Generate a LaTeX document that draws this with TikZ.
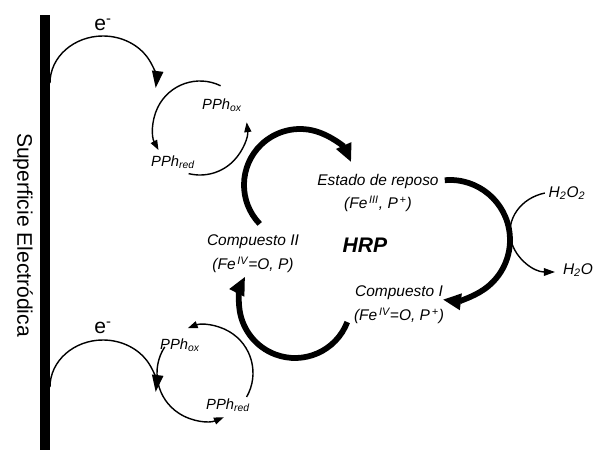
\documentclass[tikz,border=0pt]{standalone}
\usepackage{fontspec}
\setmainfont{Liberation Sans}
\usepackage{tikz}
\usetikzlibrary{arrows.meta, positioning}
\tikzset{
  lbl/.style  ={align=center, inner sep=1pt, font=\fontsize{11}{17}\selectfont\itshape},
  ppl/.style  ={inner sep=1pt, font=\fontsize{10.5}{12}\selectfont\itshape},
  elec/.style ={inner sep=1pt, font=\fontsize{15}{17}\selectfont},
  earr/.style ={-{Triangle[length=12pt, width=8pt]}, line width=1pt},
  parr/.style ={-{Triangle[length=7pt, width=5pt]}, line width=1pt},
  harr/.style ={-{Triangle[length=13pt, width=11pt]}, line width=4.1pt},
  warr/.style ={-{Triangle[length=8pt, width=5.5pt]}, line width=1pt}
}

\begin{document}
\begin{tikzpicture}[x=0.025cm, y=0.025cm]
  \useasboundingbox (0,0) rectangle (594,450);
  % electrode
  \coordinate (bartop) at (45,435);
  \coordinate (barbot) at (45,0);
  \draw[line width=7pt] (bartop) -- (barbot);
  \node[elec, rotate=-90] (surf) at (23,215) {Superficie Electródica};

  % enzyme states
  \node[lbl] (estado) at (378,257) {Estado de reposo\\(Fe\textsuperscript{\,III}, P\textsuperscript{\,+})};
  \node[lbl] (compI) at (399,145) {Compuesto I\\(Fe\textsuperscript{\,IV}=O, P\textsuperscript{\,+})};
  \node[lbl] (compII) at (253,196) {Compuesto II\\(Fe\textsuperscript{\,IV}=O, P)};
  \node[inner sep=1pt, font=\fontsize{15}{17}\selectfont\bfseries\itshape] (hrp) at (365,205) {HRP};
  \node[lbl] (h2o2) at (567,257) {H\textsubscript{2}O\textsubscript{2}};
  \node[lbl] (h2o) at (578,180) {H\textsubscript{2}O};

  % mediator
  \node[ppl] (pphoxA) at (222,345) {PPh\textsubscript{ox}};
  \node[ppl] (pphredA) at (173,288) {PPh\textsubscript{red}};
  \node[ppl] (pphoxB) at (180,105) {PPh\textsubscript{ox}};
  \node[ppl] (pphredB) at (228,45) {PPh\textsubscript{red}};
  \node[elec] (eA) at (103,425) {e\textsuperscript{-}};
  \node[elec] (eB) at (103,122) {e\textsuperscript{-}};

  % arc centres
  \coordinate (cycA) at (200,322);
  \coordinate (cycB) at (205,77);
  \coordinate (big1) at (300,265);
  \coordinate (big2) at (450,210);
  \coordinate (big3) at (295,148);
  \coordinate (perox) at (555,218);

  % electron transfer
  \draw[earr] (50,367) arc[start angle=180, end angle=-6, x radius=53, y radius=47];
  \draw[earr] (50,63) arc[start angle=180, end angle=-6, x radius=53, y radius=47];

  % mediator cycles
  \draw[parr] (cycA) ++(64:47) arc[start angle=64, end angle=208, radius=47];
  \draw[parr] (cycA) ++(256:47) arc[start angle=256, end angle=367, radius=47];
  \draw[parr] (cycB) ++(147:48) arc[start angle=147, end angle=293, radius=48];
  \draw[parr] (cycB) ++(330:48) arc[start angle=330, end angle=471, radius=48];

  % HRP cycle
  \draw[harr] (big1) ++(224:56) arc[start angle=224, end angle=24, radius=56];
  \draw[harr] (big2) ++(95:60) arc[start angle=95, end angle=-97, radius=60];
  \draw[harr] (big3) ++(-21:56) arc[start angle=-21, end angle=-207, radius=56];

  % peroxide
  \draw[warr] (perox) ++(103:45 and 40) arc[start angle=103, end angle=270, x radius=45, y radius=40];
\end{tikzpicture}
\end{document}
